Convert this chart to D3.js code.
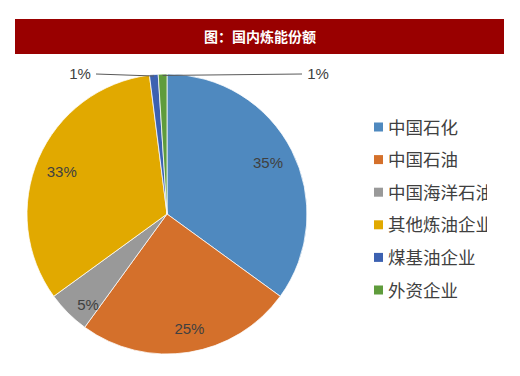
<!DOCTYPE html>
<html><head><meta charset="utf-8">
<script src="https://cdn.jsdelivr.net/npm/d3@7"></script>
<style>body{margin:0;background:#fff}</style>
</head><body>
<svg id="c" width="520" height="376"></svg>
<script>
const categories = ["中国石化","中国石油","中国海洋石油","其他炼油企业","煤基油企业","外资企业"];
const values = [35, 25, 5, 33, 1, 1];
const labels = ["35%","25%","5%","33%","1%","1%"];
const colors = ["#4F89BF","#D4702B","#999999","#E1A900","#3C61B1","#5F9C3C"];
const title = "图：国内炼能份额";

const svg = d3.select("#c");
svg.append("rect").attr("x",15).attr("y",19).attr("width",489).attr("height",35).attr("fill","#990000");
svg.append("text").attr("x",260).attr("y",42).attr("text-anchor","middle").attr("fill","#fff")
  .attr("font-family","Noto Sans CJK SC").attr("font-weight","bold").attr("font-size",14).text(title);

const cx=167, cy=214, r=140;
const pie = d3.pie().sort(null).value(d=>d)(values);
const arc = d3.arc().innerRadius(0).outerRadius(r);
const g = svg.append("g").attr("transform",`translate(${cx},${cy})`);
g.selectAll("path").data(pie).join("path").attr("d",arc).attr("fill",(d,i)=>colors[i])
  .attr("stroke","#fff").attr("stroke-width",0.75);

const font = "'Liberation Sans Narrow','Liberation Sans',sans-serif";
// best-fit label placement (radius fraction, angle shift in degrees)
const place = [[0.81,0],[0.84,-2],[0.86,-4],[0.81,-1.5]];
pie.forEach((d,i)=>{
  if(i<4){
    const a = (d.startAngle+d.endAngle)/2 + place[i][1]*Math.PI/180;
    const rr = r*place[i][0];
    g.append("text").attr("x",Math.sin(a)*rr).attr("y",-Math.cos(a)*rr+5).attr("text-anchor","middle").attr("fill","#404040")
      .attr("font-family",font).attr("font-size",15).text(labels[i]);
  }
});
// small slice labels with leader lines
const small = [{i:4, lx:-71, tx:-87}, {i:5, lx:135, tx:151}];
small.forEach(s=>{
  const d = pie[s.i];
  const a = (d.startAngle+d.endAngle)/2;
  const px = Math.sin(a)*r*0.99, py = -Math.cos(a)*r*0.99;
  const ly = -140;
  g.append("line").attr("x1",s.lx).attr("y1",ly).attr("x2",px).attr("y2",py)
    .attr("stroke","#595959").attr("stroke-width",1);
  g.append("text").attr("x",s.tx).attr("y",ly+5).attr("text-anchor","middle").attr("fill","#404040")
    .attr("font-family",font).attr("font-size",15).text(labels[s.i]);
});

// legend
svg.append("clipPath").attr("id","lc").append("rect").attr("x",360).attr("y",100).attr("width",127).attr("height",220);
const lg = svg.append("g").attr("clip-path","url(#lc)");
const ly = d3.scaleLinear().domain([0,5]).range([127,290]);
categories.forEach((c,i)=>{
  lg.append("rect").attr("x",374).attr("y",ly(i)-4.5).attr("width",9).attr("height",9).attr("fill",colors[i]);
  lg.append("text").attr("x",388).attr("y",ly(i)+6.5).attr("fill","#404040")
    .attr("font-family","Noto Sans CJK SC").attr("font-size",17.5).text(c);
});
</script>
</body></html>
